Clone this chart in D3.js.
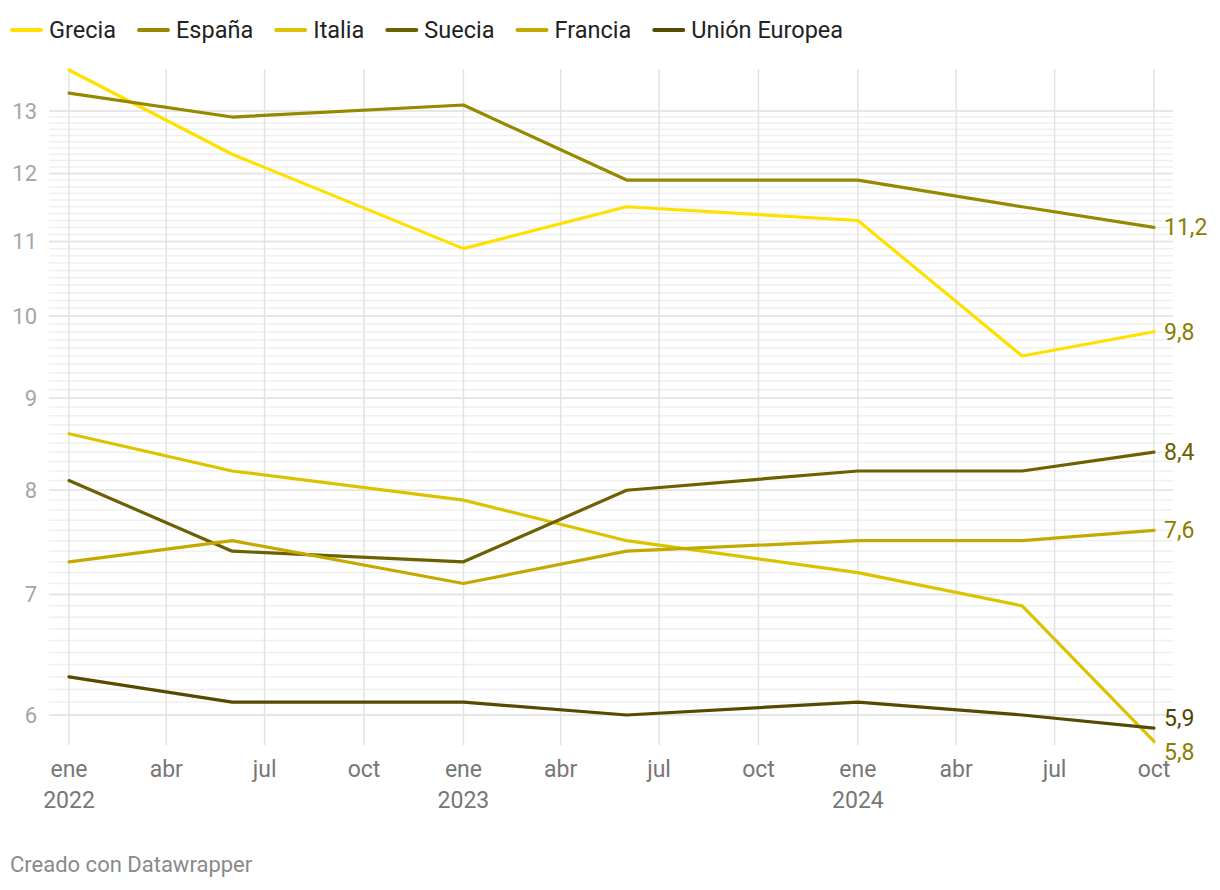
<!DOCTYPE html>
<html><head><meta charset="utf-8">
<script src="https://cdn.jsdelivr.net/npm/d3@7"></script>
<style>body{margin:0;background:#fff;font-family:Roboto,"Noto Sans",sans-serif}</style>
</head><body><svg id="c" width="1220" height="890"></svg>
<script>
const dates = ["2022-01-01","2022-06-01","2023-01-01","2023-06-01","2024-01-01","2024-06-01","2024-10-01"];
const seriesNames = ["Grecia","España","Italia","Suecia","Francia","Unión Europea"];
const grecia  = [13.7,12.3,10.9,11.5,11.3,9.5,9.8];
const espana  = [13.3,12.9,13.1,11.9,11.9,11.5,11.2];
const italia  = [8.6,8.2,7.9,7.5,7.2,6.9,5.8];
const suecia  = [8.1,7.4,7.3,8.0,8.2,8.2,8.4];
const francia = [7.3,7.5,7.1,7.4,7.5,7.5,7.6];
const ue      = [6.3,6.1,6.1,6.0,6.1,6.0,5.9];
const lineColors  = ["#ffe100","#968800","#dcc300","#6d6000","#c4aa00","#574a00"];
const labelColors = ["#8a7d00","#8a7d00","#8a7d00","#6d6000","#8a7d00","#4f4300"];
const yTicks = [6,7,8,9,10,11,12,13];
const yLabels = ["6","7","8","9","10","11","12","13"];
const monthNames = ["ene","feb","mar","abr","may","jun","jul","ago","sep","oct","nov","dic"];

const allValues = [grecia,espana,italia,suecia,francia,ue];
const parse = d3.timeParse("%Y-%m-%d");
const dts = dates.map(parse);
const svg = d3.select("#c");

const x = d3.scaleTime().domain([parse("2022-01-01"), parse("2024-10-01")]).range([69,1154]);
const y = d3.scaleLog().domain([6,13]).range([715,111]);

// minor grid
const minor = d3.range(60,131).map(v=>v/10);
svg.append("g").selectAll("line").data(minor).join("line")
  .attr("x1",49).attr("x2",1173)
  .attr("y1",d=>y(d)).attr("y2",d=>y(d))
  .attr("stroke","#f0f0f0").attr("stroke-width",1.5);
// major grid
svg.append("g").selectAll("line").data(yTicks).join("line")
  .attr("x1",49).attr("x2",1173)
  .attr("y1",d=>y(d)).attr("y2",d=>y(d))
  .attr("stroke","#e3e3e3").attr("stroke-width",1.5);
// vertical grid
const xt = d3.timeMonth.every(3).range(parse("2022-01-01"), parse("2024-10-02"));
svg.append("g").selectAll("line").data(xt).join("line")
  .attr("x1",d=>x(d)).attr("x2",d=>x(d)).attr("y1",69).attr("y2",745)
  .attr("stroke","#e3e3e3").attr("stroke-width",1.5);

// y labels
svg.append("g").selectAll("text").data(yTicks).join("text")
  .attr("x",37).attr("y",d=>y(d)).attr("dy","0.35em").attr("text-anchor","end")
  .attr("font-size",22).attr("fill","#a6a6a6").text((d,i)=>yLabels[i]);

// x labels
const xl = svg.append("g");
xt.forEach(d=>{
  xl.append("text").attr("x",x(d)).attr("y",769).attr("dy","0.35em").attr("text-anchor","middle")
    .attr("font-size",23).attr("fill","#777").text(monthNames[d.getMonth()]);
  if(d.getMonth()===0) xl.append("text").attr("x",x(d)).attr("y",800).attr("dy","0.35em").attr("text-anchor","middle")
    .attr("font-size",23).attr("fill","#777").text(d.getFullYear());
});

// lines
const line = d3.line().x((d,i)=>x(dts[i])).y(d=>y(d));
allValues.forEach((vals,k)=>{
  svg.append("path").datum(vals).attr("d",line).attr("fill","none")
    .attr("stroke",lineColors[k]).attr("stroke-width",3.2)
    .attr("stroke-linejoin","round").attr("stroke-linecap","round");
});

// end labels with collision avoidance
let labs = allValues.map((vals,k)=>({k, v:vals[vals.length-1], y:y(vals[vals.length-1])}));
labs.sort((a,b)=>a.y-b.y);
const gap = 34;
for(let it=0; it<50; it++){
  for(let i=1;i<labs.length;i++){
    const d = labs[i].y - labs[i-1].y;
    if(d<gap){ const s=(gap-d)/2; labs[i].y+=s; labs[i-1].y-=s; }
  }
}
svg.append("g").selectAll("text").data(labs).join("text")
  .attr("x",1164).attr("y",d=>d.y).attr("dy","0.35em")
  .attr("font-size",23).attr("fill",d=>labelColors[d.k])
  .text(d=>d3.format(".1f")(d.v).replace(".",","));

// legend
const lg = svg.append("g");
let lx = 11;
seriesNames.forEach((n,k)=>{
  lg.append("line").attr("x1",lx+1).attr("x2",lx+30).attr("y1",30).attr("y2",30)
    .attr("stroke",lineColors[k]).attr("stroke-width",4).attr("stroke-linecap","round");
  const t = lg.append("text").attr("x",lx+38).attr("y",30).attr("dy","0.35em")
    .attr("font-size",23.5).attr("fill","#222").text(n);
  lx = lx + 38 + t.node().getComputedTextLength() + 22;
});

// footer
svg.append("text").attr("x",10).attr("y",864).attr("dy","0.35em").attr("font-size",22).attr("fill","#8a8a8a")
  .text("Creado con Datawrapper");
</script></body></html>
